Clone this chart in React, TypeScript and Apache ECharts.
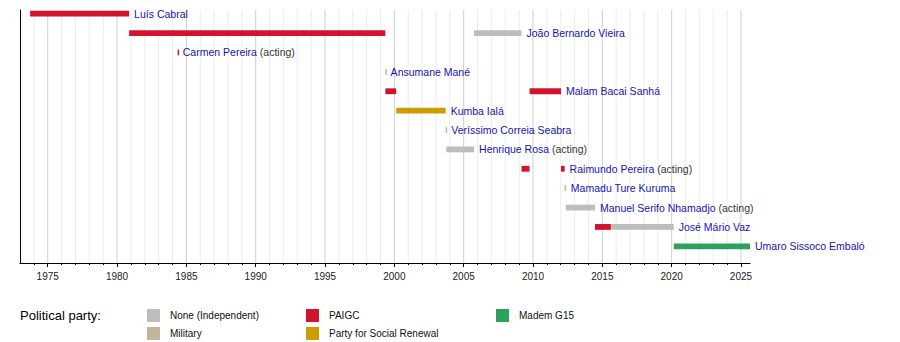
import React, { useEffect, useRef } from "react";
import * as echarts from "echarts";

const FONT = "'Liberation Sans', Arial, Helvetica, sans-serif";

const parties = ["None (Independent)", "Military", "PAIGC", "Party for Social Renewal", "Madem G15"];
const partyColors = ["#BDBDBD", "#C2B59B", "#D2132D", "#CC9D00", "#2BA35C"];

const presidents = [
  "Luís Cabral",
  "João Bernardo Vieira",
  "Carmen Pereira",
  "Ansumane Mané",
  "Malam Bacai Sanhá",
  "Kumba Ialá",
  "Veríssimo Correia Seabra",
  "Henrique Rosa",
  "Raimundo Pereira",
  "Mamadu Ture Kuruma",
  "Manuel Serifo Nhamadjo",
  "José Mário Vaz",
  "Umaro Sissoco Embaló",
];
const acting = [false, false, true, false, false, false, false, true, true, false, true, false, false];

// [row, start, end, partyIndex]
const terms: number[][] = [
  [0, 1973.73, 1980.87, 2],
  [1, 1980.87, 1999.35, 2],
  [1, 2005.75, 2009.17, 0],
  [2, 1984.37, 1984.38, 2],
  [3, 1999.35, 1999.37, 1],
  [4, 1999.35, 2000.13, 2],
  [4, 2009.75, 2012.02, 2],
  [5, 2000.13, 2003.7, 3],
  [6, 2003.7, 2003.74, 1],
  [7, 2003.74, 2005.75, 0],
  [8, 2009.17, 2009.75, 2],
  [8, 2012.02, 2012.28, 2],
  [9, 2012.28, 2012.37, 1],
  [10, 2012.37, 2014.47, 0],
  [11, 2014.47, 2015.62, 2],
  [11, 2015.62, 2020.15, 0],
  [12, 2020.15, 2025.65, 4],
];

const axisMin = 1973;
const axisMax = 2025.65;
const majorYears = [1975, 1980, 1985, 1990, 1995, 2000, 2005, 2010, 2015, 2020, 2025];
const minorYears: number[] = [];
for (let y = 1974; y <= 2025; y++) minorYears.push(y);

export default function App() {
  const ref = useRef<HTMLDivElement>(null);
  useEffect(() => {
    document.body.style.margin = "0";
    if (!ref.current) return;
    const chart = echarts.init(ref.current, null, { renderer: "svg" });

    const labelData = presidents.map((_, i) => {
      let end = -Infinity;
      terms.forEach((t) => {
        if (t[0] === i && t[2] > end) end = t[2];
      });
      return [end, i, i];
    });

    const legendGraphics: any[] = [
      {
        type: "text",
        left: 20,
        top: 309,
        style: { text: "Political party:", fontSize: 13, fontFamily: FONT, fill: "#000" },
      },
    ];
    const colX = [147, 306, 496];
    const rowY = [309, 327];
    parties.forEach((p, i) => {
      const cx = colX[Math.floor(i / 2)];
      const cy = rowY[i % 2];
      legendGraphics.push({
        type: "rect",
        left: cx,
        top: cy,
        shape: { width: 13, height: 13 },
        style: { fill: partyColors[i] },
      });
      legendGraphics.push({
        type: "text",
        left: cx + 23,
        top: cy + 1,
        style: { text: p, fontSize: 10, fontFamily: FONT, fill: "#111" },
      });
    });

    chart.setOption({
      animation: false,
      grid: { left: 20, right: 150, top: 10, bottom: 79, outerBoundsMode: "none" },
      xAxis: [
        {
          type: "value",
          min: axisMin,
          max: axisMax,
          position: "bottom",
          axisLine: { onZero: false, lineStyle: { color: "#000", width: 1 } },
          axisTick: { customValues: majorYears, length: 4, lineStyle: { color: "#000" } },
          axisLabel: {
            customValues: majorYears,
            formatter: (v: number) => String(v),
            fontSize: 10,
            fontFamily: FONT,
            color: "#222",
            margin: 8,
          },
          splitLine: { show: false },
        },
        {
          type: "value",
          min: axisMin,
          max: axisMax,
          position: "bottom",
          axisLine: { show: false, onZero: false },
          axisTick: { customValues: minorYears, length: 2, lineStyle: { color: "#000" } },
          axisLabel: { show: false },
          splitLine: { show: false },
        },
      ],
      yAxis: {
        type: "value",
        inverse: true,
        min: -0.19,
        max: 12.86,
        axisLine: { show: true, onZero: false, lineStyle: { color: "#000" } },
        axisTick: { show: false },
        axisLabel: { show: false },
        splitLine: { show: false },
      },
      series: [
        {
          type: "custom",
          name: "grid",
          z: 1,
          silent: true,
          data: minorYears.map((y) => [y, 0]),
          renderItem: (params: any, api: any) => {
            const year = api.value(0);
            const p = api.coord([year, 0]);
            const cs = params.coordSys;
            const major = year % 5 === 0;
            return {
              type: "line",
              shape: { x1: p[0], y1: cs.y, x2: p[0], y2: cs.y + cs.height },
              style: { stroke: major ? "#cfcfcf" : "#ececec", lineWidth: 1 },
            };
          },
        },
        {
          type: "custom",
          name: "terms",
          z: 3,
          data: terms,
          encode: { x: [1, 2], y: 0 },
          renderItem: (params: any, api: any) => {
            const row = api.value(0);
            const s = api.coord([api.value(1), row]);
            const e = api.coord([api.value(2), row]);
            const h = api.size([0, 1])[1] * 0.3;
            const w = Math.max(e[0] - s[0], 1.5);
            return {
              type: "rect",
              shape: { x: s[0], y: s[1] - h / 2, width: w, height: h },
              style: { fill: partyColors[api.value(3)] },
            };
          },
        },
        {
          type: "custom",
          name: "labels",
          z: 4,
          data: labelData,
          encode: { x: 0, y: 1 },
          renderItem: (params: any, api: any) => {
            const idx = api.value(2);
            const p = api.coord([api.value(0), api.value(1)]);
            const txt = acting[idx]
              ? "{n|" + presidents[idx] + "} {a|(acting)}"
              : "{n|" + presidents[idx] + "}";
            return {
              type: "text",
              x: p[0] + 5,
              y: p[1],
              style: {
                text: txt,
                verticalAlign: "middle",
                align: "left",
                fontFamily: FONT,
                fontSize: 10.5,
                rich: {
                  n: { fill: "#1414b4", fontSize: 10.5, fontFamily: FONT },
                  a: { fill: "#333", fontSize: 10.5, fontFamily: FONT },
                },
              },
            };
          },
        },
      ],
      graphic: legendGraphics,
    });

    return () => chart.dispose();
  }, []);

  return <div ref={ref} style={{ width: 900, height: 342 }} />;
}
